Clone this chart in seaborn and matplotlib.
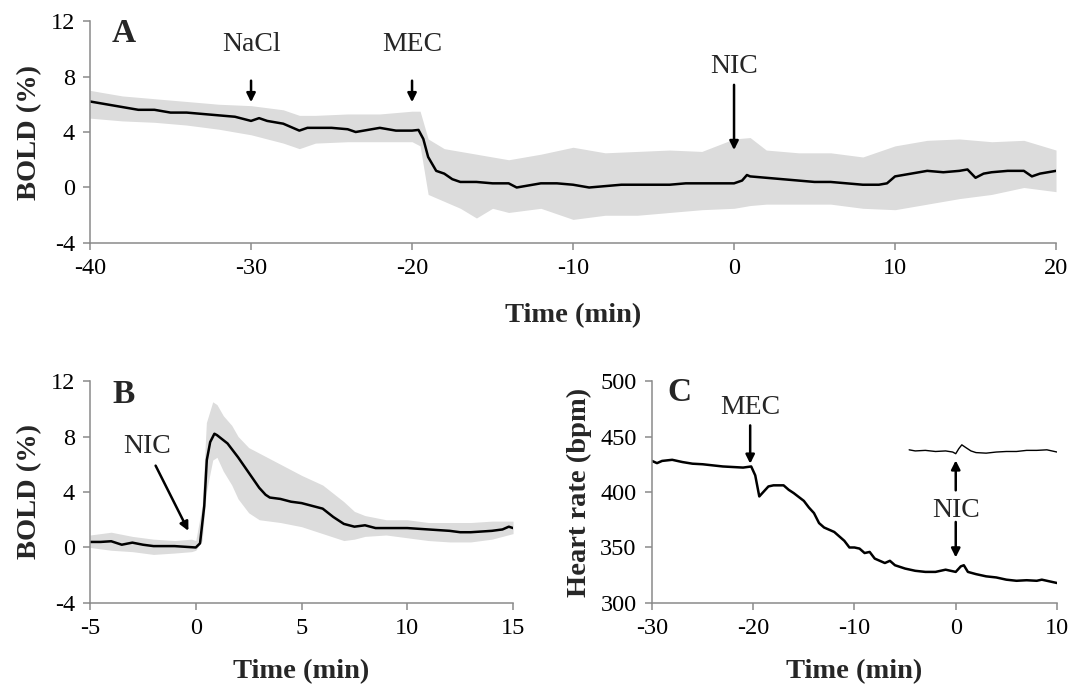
import numpy as np
import pandas as pd
import matplotlib
matplotlib.use("Agg")
import matplotlib.pyplot as plt
import seaborn as sns

# ---------------- Panel A data ----------------
a_time = [-40, -39, -38, -37, -36, -35, -34, -33, -32, -31, -30, -29.5, -29, -28, -27, -26.5,
          -26, -25, -24, -23.5, -23, -22, -21, -20, -19.6, -19.3, -19, -18.5, -18, -17.5, -17,
          -16, -15, -14, -13.5, -13, -12, -11, -10, -9, -8, -7, -6, -5, -4, -3, -2, -1, 0,
          0.5, 0.8, 1, 2, 3, 4, 5, 6, 7, 8, 9, 9.5, 10, 11, 12, 13, 14, 14.5, 15, 15.5, 16,
          17, 18, 18.5, 19, 20]
a_bold = [6.2, 6.0, 5.8, 5.6, 5.6, 5.4, 5.4, 5.3, 5.2, 5.1, 4.8, 5.0, 4.8, 4.6, 4.1, 4.3,
          4.3, 4.3, 4.2, 4.0, 4.1, 4.3, 4.1, 4.1, 4.15, 3.5, 2.2, 1.2, 1.0, 0.6, 0.4,
          0.4, 0.3, 0.3, 0.0, 0.1, 0.3, 0.3, 0.2, 0.0, 0.1, 0.2, 0.2, 0.2, 0.2, 0.3, 0.3, 0.3, 0.3,
          0.5, 0.9, 0.8, 0.7, 0.6, 0.5, 0.4, 0.4, 0.3, 0.2, 0.2, 0.3, 0.8, 1.0, 1.2, 1.1, 1.2, 1.3, 0.7, 1.0, 1.1,
          1.2, 1.2, 0.8, 1.0, 1.2]
a_env_time = [-40, -38, -36, -34, -32, -30, -28, -27, -26, -24, -22, -20, -19.5, -19, -18, -17,
              -16, -15, -14, -12, -10, -8, -6, -4, -2, 0, 1, 2, 4, 6, 8, 10, 12, 14, 16, 18, 20]
a_env_hi = [7.0, 6.6, 6.4, 6.2, 6.0, 5.9, 5.6, 5.2, 5.2, 5.3, 5.3, 5.5, 5.5, 3.5, 2.8, 2.6,
            2.4, 2.2, 2.0, 2.4, 2.9, 2.5, 2.6, 2.7, 2.6, 3.5, 3.6, 2.7, 2.5, 2.5, 2.2, 3.0, 3.4, 3.5, 3.3, 3.4, 2.7]
a_env_lo = [5.0, 4.8, 4.7, 4.5, 4.2, 3.8, 3.2, 2.8, 3.2, 3.3, 3.3, 3.3, 3.0, -0.5, -1.0, -1.5,
            -2.2, -1.5, -1.8, -1.5, -2.3, -2.0, -2.0, -1.8, -1.6, -1.5, -1.3, -1.2, -1.2, -1.2, -1.5, -1.6, -1.2, -0.8, -0.5, 0.0, -0.3]

# ---------------- Panel B data ----------------
b_time = [-5, -4.5, -4, -3.5, -3, -2.5, -2, -1.5, -1, -0.5, 0, 0.2, 0.4, 0.52, 0.68, 0.88, 1.0,
          1.5, 2, 2.5, 3, 3.3, 3.5, 4, 4.5, 5, 5.5, 6, 6.5, 7, 7.5, 8, 8.5, 9, 10, 11, 12, 12.5,
          13, 14, 14.5, 14.8, 15]
b_bold = [0.4, 0.4, 0.45, 0.2, 0.35, 0.2, 0.1, 0.1, 0.1, 0.05, 0.0, 0.3, 3.0, 6.3, 7.6, 8.2, 8.1,
          7.5, 6.5, 5.4, 4.3, 3.8, 3.6, 3.5, 3.3, 3.2, 3.0, 2.8, 2.2, 1.7, 1.5, 1.6, 1.4, 1.4, 1.4, 1.3, 1.2, 1.1,
          1.1, 1.2, 1.3, 1.5, 1.4]
b_env_time = [-5, -4, -3, -2, -1, -0.2, 0, 0.3, 0.5, 0.8, 1.0, 1.3, 1.7, 2.0, 2.5, 3, 4, 5, 6, 7,
              7.5, 8, 9, 10, 11, 12, 13, 14, 15]
b_env_hi = [0.9, 1.1, 0.8, 0.6, 0.5, 0.6, 0.5, 3.0, 9.0, 10.5, 10.3, 9.5, 8.8, 8.0, 7.2, 6.8, 6.0, 5.2, 4.5, 3.3,
            2.6, 2.3, 2.0, 2.0, 1.8, 1.8, 1.8, 1.9, 1.9]
b_env_lo = [0.0, -0.2, -0.3, -0.5, -0.4, -0.3, -0.2, 0.5, 4.0, 6.3, 6.5, 5.5, 4.5, 3.5, 2.5, 2.0, 1.8, 1.5, 1.0, 0.5,
            0.6, 0.8, 0.9, 0.7, 0.5, 0.4, 0.4, 0.6, 1.0]

# ---------------- Panel C data ----------------
c_time = [-30, -29.5, -29, -28, -27, -26, -25, -24, -23, -22, -21, -20.2, -19.8, -19.4, -19, -18.5,
          -18, -17, -16.5, -16, -15, -14.5, -14, -13.5, -13, -12, -11, -10.5, -10, -9.5, -9, -8.5,
          -8, -7, -6.5, -6, -5, -4, -3, -2, -1, 0, 0.5, 0.8, 1.2, 2, 3, 4, 5, 6, 7, 8, 8.5, 9, 10]
c_hr = [428, 426, 428, 429, 427, 425.5, 425, 424, 423, 422.5, 422, 423, 415, 396, 400, 405,
        406, 406, 402, 399, 392, 386, 381, 372, 368, 364, 356, 350, 350, 349, 345, 346,
        340, 336, 338, 334, 331, 329, 328, 328, 330, 328, 333, 334, 328, 326, 324, 323, 321, 320, 320.5, 320, 321, 320, 318]
c_inset_time = [-4.6, -4, -3, -2, -1, -0.3, 0, 0.3, 0.6, 1.0, 1.5, 2, 3, 4, 5, 6, 7, 8, 9, 10]
c_inset_hr = [438, 437, 437.5, 436.5, 437, 436, 434.5, 439, 442.5, 440, 437, 435.5, 435, 436, 436.5,
              436.5, 437.5, 437.5, 438, 436]

# ---------------- style ----------------
sns.set_theme(style="ticks")
plt.rcParams["font.family"] = ["Liberation Serif", "DejaVu Serif"]
AX_COLOR = "#8a8a8a"
plt.rcParams.update({
    "axes.unicode_minus": False,
    "axes.edgecolor": AX_COLOR,
    "axes.linewidth": 1.1,
    "xtick.color": AX_COLOR,
    "ytick.color": AX_COLOR,
    "xtick.labelcolor": "black",
    "ytick.labelcolor": "black",
    "xtick.major.size": 5,
    "ytick.major.size": 5,
    "xtick.major.width": 1.1,
    "ytick.major.width": 1.1,
    "xtick.labelsize": 17.5,
    "ytick.labelsize": 17.5,
})

fig = plt.figure(figsize=(10.81, 6.87), dpi=100)
axA = fig.add_axes([0.0833, 0.6463, 0.8936, 0.3231])
axB = fig.add_axes([0.0833, 0.1223, 0.3913, 0.3231])
axC = fig.add_axes([0.6031, 0.1223, 0.3747, 0.3231])

GRAY = "#dcdcdc"
LABEL_KW = dict(fontsize=20.5, fontweight="bold")
ANN_FS = 20
LET_FS = 24
arrow_kw = dict(arrowstyle="-|>", color="black", lw=1.8, mutation_scale=13, shrinkA=0, shrinkB=0)

# Panel A
axA.fill_between(a_env_time, a_env_lo, a_env_hi, color=GRAY, lw=0)
sns.lineplot(x=a_time, y=a_bold, ax=axA, color="black", linewidth=1.8)
axA.set_xlim(-40, 20)
axA.set_ylim(-4, 12)
axA.set_xticks([-40, -30, -20, -10, 0, 10, 20])
axA.set_yticks([-4, 0, 4, 8, 12])
axA.set_xlabel("Time (min)", labelpad=17, **LABEL_KW)
axA.set_ylabel("BOLD (%)", labelpad=6, **LABEL_KW)
axA.text(0.035, 0.946, "A", transform=axA.transAxes, ha="center", va="center", fontsize=LET_FS, fontweight="bold")
axA.text(-30, 10.3, "NaCl", ha="center", va="center", fontsize=ANN_FS)
axA.annotate("", xy=(-30, 6.15), xytext=(-30, 7.7), arrowprops=arrow_kw)
axA.text(-20, 10.3, "MEC", ha="center", va="center", fontsize=ANN_FS)
axA.annotate("", xy=(-20, 6.15), xytext=(-20, 7.7), arrowprops=arrow_kw)
axA.text(0, 8.7, "NIC", ha="center", va="center", fontsize=ANN_FS)
axA.annotate("", xy=(0, 2.7), xytext=(0, 7.4), arrowprops=arrow_kw)

# Panel B
axB.fill_between(b_env_time, b_env_lo, b_env_hi, color=GRAY, lw=0)
sns.lineplot(x=b_time, y=b_bold, ax=axB, color="black", linewidth=1.8)
axB.set_xlim(-5, 15)
axB.set_ylim(-4, 12)
axB.set_xticks([-5, 0, 5, 10, 15])
axB.set_yticks([-4, 0, 4, 8, 12])
axB.set_xlabel("Time (min)", labelpad=14, **LABEL_KW)
axB.set_ylabel("BOLD (%)", labelpad=6, **LABEL_KW)
axB.text(0.08, 0.937, "B", transform=axB.transAxes, ha="center", va="center", fontsize=LET_FS, fontweight="bold")
axB.text(-2.3, 7.3, "NIC", ha="center", va="center", fontsize=ANN_FS)
axB.annotate("", xy=(-0.35, 1.2), xytext=(-1.9, 5.9), arrowprops=arrow_kw)

# Panel C
sns.lineplot(x=c_time, y=c_hr, ax=axC, color="black", linewidth=1.8)
sns.lineplot(x=c_inset_time, y=c_inset_hr, ax=axC, color="black", linewidth=1.0)
axC.set_xlim(-30, 10)
axC.set_ylim(300, 500)
axC.set_xticks([-30, -20, -10, 0, 10])
axC.set_yticks([300, 350, 400, 450, 500])
axC.set_xlabel("Time (min)", labelpad=14, **LABEL_KW)
axC.set_ylabel("Heart rate (bpm)", labelpad=6, **LABEL_KW)
axC.text(0.069, 0.95, "C", transform=axC.transAxes, ha="center", va="center", fontsize=LET_FS, fontweight="bold")
axC.text(-20.3, 476.5, "MEC", ha="center", va="center", fontsize=ANN_FS)
axC.annotate("", xy=(-20.3, 425.5), xytext=(-20.3, 460), arrowprops=arrow_kw)
axC.text(0, 383.5, "NIC", ha="center", va="center", fontsize=ANN_FS)
axC.annotate("", xy=(0, 341), xytext=(0, 373), arrowprops=arrow_kw)
axC.annotate("", xy=(0, 428.5), xytext=(0, 401.5), arrowprops=arrow_kw)

for ax in (axA, axB, axC):
    sns.despine(ax=ax)
    ax.tick_params(axis="both", which="major", pad=6)

fig.savefig("out.png", dpi=100)
